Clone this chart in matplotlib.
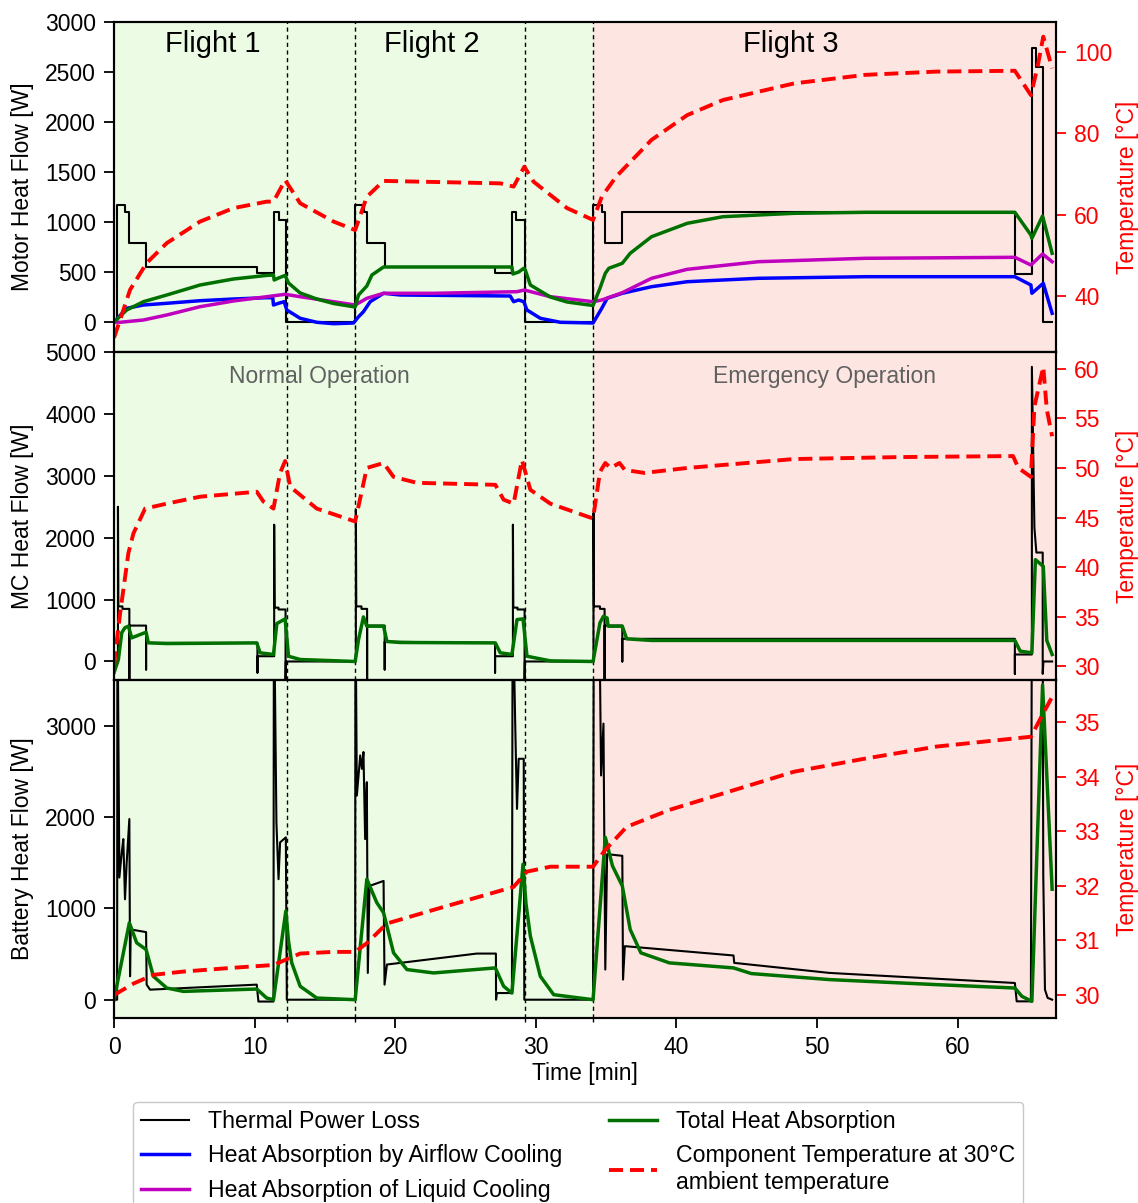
import matplotlib
matplotlib.use('Agg')
import matplotlib.pyplot as plt

plt.rcParams['font.family'] = ['Liberation Sans', 'DejaVu Sans']
plt.rcParams['font.size'] = 16.5

#--------------------------------------------------------------------------------------------------------------------------
# data (time in min, heat flow in W, temperature in degC)
#--------------------------------------------------------------------------------------------------------------------------
phase_lines = [12.3, 17.15, 29.25, 34.1]
normal_end = 34.1
t_end = 67.0

flight_names = ['Flight 1', 'Flight 2', 'Flight 3']
flight_pos = [7.0, 22.6, 48.1]
mode_names = ['Normal Operation', 'Emergency Operation']
mode_pos = [14.63, 50.5]

# motor
motor_loss_t = [0, 0.19, 0.19, 0.78, 0.78, 1.09, 1.09, 2.28, 2.28, 10.2, 10.2, 11.35, 11.35, 11.7, 11.7, 12.2, 12.2,
                17.15, 17.15, 17.75, 17.75, 18.0, 18.0, 19.25, 19.25, 27.1, 27.1, 28.3, 28.3, 28.6, 28.6, 29.2, 29.2,
                34.1, 34.1, 34.7, 34.7, 34.9, 34.9, 36.15, 36.15, 64.07, 64.07, 65.3, 65.3, 65.6, 65.6, 66.05, 66.05, 66.7]
motor_loss_w = [0, 0, 1170, 1170, 1100, 1100, 790, 790, 550, 550, 490, 490, 1100, 1100, 1020, 1020, 0,
                0, 1170, 1170, 1100, 1100, 790, 790, 550, 550, 490, 490, 1100, 1100, 1020, 1020, 0,
                0, 1170, 1170, 1100, 1100, 790, 790, 1100, 1100, 480, 480, 2740, 2740, 2550, 2550, 0, 0]

motor_total_t = [0, 0.9, 2.09, 3.75, 6.12, 8.49, 10.86, 11.34, 11.39, 11.7, 12.17, 12.41, 13.24, 14.42, 15.61, 17.15,
                 17.39, 17.98, 18.34, 19.17, 28.3, 28.37, 28.78, 29.14, 29.25, 29.61, 31.03, 32.22, 34.07, 34.56,
                 34.94, 35.19, 36.15, 36.71, 38.23, 40.77, 43.3, 48.37, 53.43, 64.07, 65.21, 65.28, 66.04, 66.72]
motor_total_w = [0, 120, 203, 270, 370, 430, 466, 470, 420, 440, 466, 390, 290, 230, 185, 150,
                 270, 360, 470, 550, 550, 480, 500, 537, 520, 370, 250, 200, 165, 337,
                 487, 537, 587, 687, 853, 987, 1053, 1087, 1097, 1097, 870, 837, 1060, 687]

motor_air_t = [0, 0.9, 2.09, 3.75, 6.12, 8.49, 10.86, 11.29, 11.34, 11.7, 12.1, 12.29, 13.24, 14.42, 15.61, 17.03,
               17.39, 17.74, 18.22, 19.17, 20.36, 28.18, 28.42, 28.78, 29.14, 29.37, 30.32, 31.74, 34.07, 34.69,
               35.07, 36.15, 38.23, 40.77, 45.83, 53.43, 64.07, 65.21, 65.28, 66.09, 66.72]
motor_air_w = [0, 137, 170, 187, 213, 230, 243, 243, 170, 187, 203, 120, 37, -3, -17, -10,
               53, 103, 203, 287, 270, 260, 203, 220, 203, 120, 37, -3, -10, 137,
               237, 287, 353, 403, 437, 453, 453, 370, 287, 387, 87]

motor_liq_t = [0, 0.43, 2.09, 3.75, 6.12, 8.49, 10.86, 12.17, 13.24, 15.61, 17.15, 17.98, 19.17, 22.73, 28.66,
               29.18, 31.03, 34.07, 34.69, 36.15, 38.23, 40.77, 45.83, 53.43, 64.07, 65.21, 66.04, 66.72]
motor_liq_w = [0, -3, 20, 70, 153, 210, 253, 277, 253, 203, 170, 237, 287, 287, 303,
               320, 253, 203, 220, 293, 437, 527, 603, 637, 647, 570, 680, 603]

motor_temp_t = [0, 0.43, 1.14, 2.32, 3.75, 6.12, 8.49, 10.86, 11.34, 12.17, 13.24, 15.61, 17.15, 17.98, 19.17,
                27.47, 28.42, 29.18, 29.84, 32.22, 34.07, 34.69, 35.7, 38.23, 40.77, 43.3, 48.37, 53.43, 58.5,
                64.07, 65.21, 65.71, 66.09, 66.72]
motor_temp_c = [29.7, 34.1, 41.5, 48.1, 53.0, 58.3, 61.6, 63.2, 63.2, 68.5, 62.8, 58.3, 56.2, 64.4, 68.3,
                67.7, 66.9, 71.8, 68.1, 61.6, 58.7, 64.4, 69.3, 78.4, 84.5, 88.2, 92.3, 94.4, 95.2,
                95.4, 89.4, 96.8, 103.8, 96.0]

# motor controller
mc_loss_t = [0, 0.28, 0.28, 0.31, 0.6, 0.6, 1.09, 1.09, 1.09, 2.28, 2.28, 2.28, 10.2, 10.2, 10.2, 11.39, 11.39,
             11.42, 11.7, 11.7, 12.2, 12.2, 12.22, 17.2, 17.2, 17.23, 17.6, 17.6, 18.0, 18.0, 18.0, 19.25, 19.25,
             19.25, 27.1, 27.1, 27.1, 28.37, 28.37, 28.4, 28.7, 28.7, 29.2, 29.2, 29.22, 34.1, 34.1, 34.13, 34.56,
             34.56, 34.89, 34.89, 34.89, 36.15, 36.15, 36.15, 64.07, 64.07, 64.07, 65.28, 65.28, 65.46, 65.6,
             66.05, 66.05, 66.1, 66.72]
mc_loss_w = [0, 0, 2500, 890, 890, 850, 850, -350, 580, 580, -130, 300, 300, -180, 85, 85, 2210,
             870, 870, 840, 840, -350, 0, 0, 2450, 890, 890, 850, 850, -350, 580, 580, -130,
             320, 300, -180, 85, 85, 2210, 870, 870, 840, 840, -350, 0, 0, 2400, 890, 890,
             850, 850, -350, 580, 580, 0, 366, 366, -200, 113, 113, 4760, 2160, 1760,
             1760, -200, 0, 0]

mc_total_t = [0, 0.31, 0.55, 0.78, 1.02, 1.26, 2.28, 2.44, 3.75, 10.15, 10.39, 11.34, 11.58, 12.17, 12.41, 13.24,
              17.15, 17.39, 17.74, 17.98, 19.17, 19.41, 20.36, 27.12, 27.47, 28.3, 28.66, 29.09, 29.37, 31.03,
              34.07, 34.56, 34.81, 35.07, 35.14, 36.15, 36.46, 38.23, 64.07, 64.45, 65.28, 65.53, 66.09, 66.34, 66.72]
mc_total_w = [-180, 32, 466, 546, 570, 382, 473, 301, 290, 300, 140, 113, 613, 688, 85, 32,
              0, 355, 720, 570, 570, 323, 307, 300, 140, 113, 677, 688, 85, 10,
              0, 624, 731, 702, 570, 570, 366, 340, 340, 167, 140, 1645, 1537, 340, 113]

mc_temp_t = [0, 0.43, 1.02, 1.38, 2.21, 3.75, 6.12, 10.15, 10.63, 11.34, 11.81, 12.17, 12.53, 14.42, 17.15, 17.98,
             19.17, 19.88, 21.54, 27.12, 27.71, 28.42, 29.01, 29.61, 31.03, 34.07, 34.56, 34.94, 35.32, 35.95,
             36.33, 37.72, 40.77, 48.37, 55.97, 63.94, 64.32, 65.21, 65.46, 66.09, 66.34, 66.72]
mc_temp_c = [30.1, 35.3, 41.4, 43.4, 45.9, 46.4, 47.1, 47.6, 46.6, 45.9, 49.5, 50.7, 48.1, 45.9, 44.6, 50.0,
             50.5, 49.1, 48.5, 48.3, 46.8, 46.4, 50.8, 47.8, 46.4, 44.9, 49.6, 50.5, 50.0, 50.5,
             49.8, 49.5, 50.0, 50.9, 51.1, 51.2, 50.0, 49.1, 56.2, 60.2, 55.9, 53.2]

# battery
bat_loss_t = [0, 0.22, 0.24, 0.38, 0.55, 0.66, 0.78, 0.90, 1.09, 1.14, 1.19, 2.28, 2.32, 2.56, 10.15, 10.27, 11.34,
              11.37, 11.55, 11.7, 11.81, 12.22, 12.29, 17.15, 17.17, 17.27, 17.51, 17.63, 17.74, 17.86, 17.98, 18.05,
              18.17, 19.17, 19.24, 19.41, 25.8, 27.16, 27.17, 27.23, 28.3, 28.35, 28.54, 28.66, 28.78, 29.14, 29.18,
              34.07, 34.12, 34.5, 34.64, 34.81, 34.94, 35.07, 36.15, 36.2, 36.33, 44.06, 44.11, 50.9, 64.07, 64.2,
              65.21, 65.28, 66.04, 66.09, 66.21, 66.4, 66.72]
bat_loss_w = [0, 0, 4500, 1337, 1612, 1758, 1099, 1500, 1978, 256, 769, 740, 165, 110, 165, -20, -20,
              4500, 1941, 1319, 1722, 1777, 0, 0, 4500, 2234, 2674, 2527, 2711, 1758, 2381, 293,
              1245, 1300, 165, 385, 505, 505, 0, 73, 73, 4500, 2967, 2088, 2637, 2637, 0,
              0, 4500, 4500, 2454, 3022, 330, 1593, 1575, 220, 586, 484, 403, 293, 183, -18,
              -18, 4500, 4500, 1355, 110, 20, 0]

bat_total_t = [0, 1.09, 1.61, 2.28, 2.80, 3.75, 4.93, 10.15, 10.86, 11.34, 12.22, 12.41, 12.64, 13.24, 14.42, 17.15,
               17.98, 18.69, 19.17, 19.88, 20.83, 22.73, 27.12, 27.71, 28.3, 29.09, 29.3, 29.61, 30.32, 31.27,
               34.07, 34.94, 35.45, 36.15, 36.71, 37.47, 39.5, 44.06, 45.33, 50.9, 58.5, 64.07, 64.57, 65.28,
               66.04, 66.72]
bat_total_w = [0, 842, 623, 549, 256, 128, 91, 117, 18, 0, 971, 640, 403, 147, 18, 0,
               1319, 1062, 952, 513, 330, 293, 348, 147, 73, 1484, 1050, 696, 256, 55,
               0, 1777, 1465, 1245, 769, 513, 403, 348, 286, 220, 165, 128, 37, -18,
               3443, 1209]

bat_temp_t = [0, 1.38, 2.80, 4.93, 8.49, 11.34, 13.24, 15.61, 17.15, 17.98, 19.41, 22.73, 28.42, 29.37, 31.03,
              34.07, 34.94, 36.46, 39.5, 43.3, 48.37, 53.43, 58.5, 65.21, 66.09, 66.72]
bat_temp_c = [30.0, 30.21, 30.37, 30.43, 30.5, 30.55, 30.76, 30.79, 30.79, 30.95, 31.31, 31.56, 31.98, 32.26, 32.35,
              32.35, 32.66, 33.08, 33.39, 33.69, 34.09, 34.33, 34.55, 34.73, 35.16, 35.46]

#--------------------------------------------------------------------------------------------------------------------------
# plot
#--------------------------------------------------------------------------------------------------------------------------
c_normal = '#ecfbe3'
c_emerg = '#fde6e1'
temp_style = dict(color='r', lw=2.8, ls=(0, (3.6, 1.8)))


def panel(ax, loss, total, temp, ylim, yticks, tlim, tticks, ylabel, air=None, liq=None):
    ax.axvspan(0, normal_end, color=c_normal, lw=0, zorder=0)
    ax.axvspan(normal_end, t_end, color=c_emerg, lw=0, zorder=0)
    for x in phase_lines:
        ax.axvline(x, color='k', lw=1, ls=(0, (3, 2.5)), zorder=1)
    lines = []
    lines += ax.plot(loss[0], loss[1], color='k', lw=1.5, label='Thermal Power Loss')
    if air is not None:
        lines += ax.plot(air[0], air[1], color='#0000ff', lw=2.5, label='Heat Absorption by Airflow Cooling')
        lines += ax.plot(liq[0], liq[1], color='#bf00bf', lw=2.5, label='Heat Absorption of Liquid Cooling')
    lines += ax.plot(total[0], total[1], color='#007000', lw=2.5, label='Total Heat Absorption')
    ax.set_xlim(0, t_end)
    ax.set_ylim(*ylim)
    ax.set_yticks(yticks)
    ax.set_xticks(range(0, 70, 10))
    ax.set_xticks(phase_lines, minor=True)
    ax.set_ylabel(ylabel)
    ax.yaxis.set_label_coords(-0.085, 0.5)
    ax.tick_params(direction='out', length=7, width=1.3, pad=6, labelsize=16.5)
    ax.tick_params(axis='x', which='minor', length=3, width=1)
    for s in ax.spines.values():
        s.set_linewidth(1.5)

    axr = ax.twinx()
    lines += axr.plot(temp[0], temp[1], label='Component Temperature at 30°C\nambient temperature', **temp_style)
    axr.set_ylim(*tlim)
    axr.set_yticks(tticks)
    axr.set_ylabel('Temperature [°C]', color='r')
    axr.yaxis.set_label_coords(1.064, 0.5)
    axr.tick_params(axis='y', colors='r', length=7, width=1.3, pad=6, labelsize=16.5)
    for s in axr.spines.values():
        s.set_linewidth(1.5)
    return lines


fig = plt.figure(figsize=(11.38, 12.03), dpi=100)
ax1 = fig.add_axes([0.1002, 0.7074, 0.8278, 0.2743])
ax2 = fig.add_axes([0.1002, 0.4347, 0.8278, 0.2727], sharex=ax1)
ax3 = fig.add_axes([0.1002, 0.1538, 0.8278, 0.2810], sharex=ax1)

h = panel(ax1, (motor_loss_t, motor_loss_w), (motor_total_t, motor_total_w), (motor_temp_t, motor_temp_c),
          (-300, 3000), range(0, 3001, 500), (26.2, 107.4), range(40, 101, 20), 'Motor Heat Flow [W]',
          air=(motor_air_t, motor_air_w), liq=(motor_liq_t, motor_liq_w))
panel(ax2, (mc_loss_t, mc_loss_w), (mc_total_t, mc_total_w), (mc_temp_t, mc_temp_c),
      (-300, 5000), range(0, 5001, 1000), (28.6, 61.7), range(30, 61, 5), 'MC Heat Flow [W]')
panel(ax3, (bat_loss_t, bat_loss_w), (bat_total_t, bat_total_w), (bat_temp_t, bat_temp_c),
      (-200, 3500), range(0, 3001, 1000), (29.58, 35.77), range(30, 36, 1), 'Battery Heat Flow [W]')

ax1.tick_params(labelbottom=False)
ax2.tick_params(labelbottom=False)
ax3.set_xlabel('Time [min]', labelpad=2)

for name, x in zip(flight_names, flight_pos):
    ax1.text(x, 0.933, name, transform=ax1.get_xaxis_transform(), ha='center', va='center', fontsize=21)
for name, x in zip(mode_names, mode_pos):
    ax2.text(x, 0.924, name, transform=ax2.get_xaxis_transform(), ha='center', va='center',
             fontsize=16.5, color='#606060')

# legend: column 1 = black, blue, purple; column 2 = green, red
fig.legend(h, [l.get_label() for l in h], loc='upper center',
           bbox_to_anchor=(0.508, 0.094), ncol=2, fontsize=16.7, handlelength=2.07, handletextpad=0.82,
           columnspacing=2.0, borderpad=0.35, frameon=True, edgecolor='#c8c8c8', framealpha=1)

fig.savefig('out.png', dpi=100)
